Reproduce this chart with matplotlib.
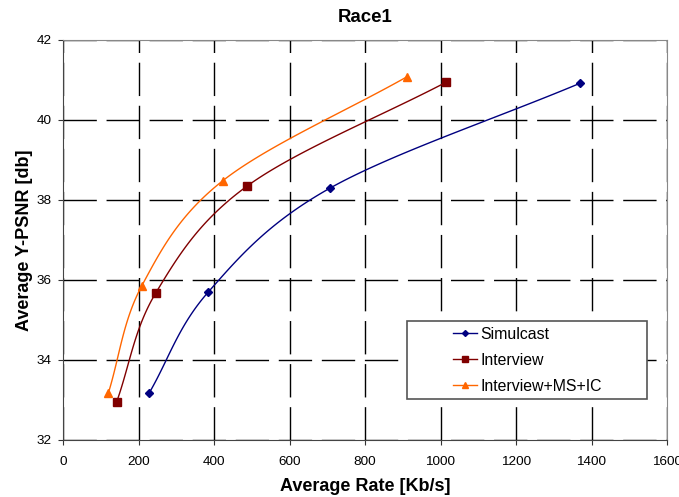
import numpy as np
import matplotlib
matplotlib.use("Agg")
import matplotlib.pyplot as plt
from matplotlib.patches import Rectangle

# rate [Kb/s] / Y-PSNR [db]
simulcast_rate = [228, 384, 706, 1370]
simulcast_psnr = [33.17, 35.69, 38.29, 40.92]
interview_rate = [142, 246, 488, 1014]
interview_psnr = [32.95, 35.68, 38.35, 40.94]
msic_rate = [120, 209, 423, 911]
msic_psnr = [33.17, 35.86, 38.48, 41.08]

x_ticks = [0, 200, 400, 600, 800, 1000, 1200, 1400, 1600]
y_ticks = [32, 34, 36, 38, 40, 42]

plt.rcParams['font.family'] = ['Liberation Sans', 'DejaVu Sans']
plt.rcParams['lines.scale_dashes'] = False

W, H = 679, 497
ax_l, ax_r, ax_t, ax_b = 63, 667, 40, 440


def smooth(xs, ys, n=40):
    # Catmull-Rom style smoothing like Excel's "smoothed line"
    p = np.column_stack([xs, ys]).astype(float)
    p = np.vstack([2 * p[0] - p[1], p, 2 * p[-1] - p[-2]])
    out = []
    t = np.linspace(0, 1, n)
    for i in range(1, len(p) - 2):
        p0, p1, p2, p3 = p[i - 1], p[i], p[i + 1], p[i + 2]
        c1 = p1 + (p2 - p0) / 6
        c2 = p2 - (p3 - p1) / 6
        seg = ((1 - t)[:, None] ** 3 * p1 + 3 * ((1 - t) ** 2 * t)[:, None] * c1
               + 3 * ((1 - t) * t ** 2)[:, None] * c2 + (t ** 3)[:, None] * p2)
        out.append(seg)
    out = np.vstack(out)
    return out[:, 0], out[:, 1]


def ax_xy(px, py):
    # pixel in picture -> axes fraction
    return (px - ax_l) / (ax_r - ax_l), (ax_b - py) / (ax_b - ax_t)


fig = plt.figure(figsize=(W / 100, H / 100), dpi=100)
ax = fig.add_axes([ax_l / W, (H - ax_b) / H, (ax_r - ax_l) / W, (ax_b - ax_t) / H])

series = [
    (simulcast_rate, simulcast_psnr, '#000080', 'D', 4, 'Simulcast'),
    (interview_rate, interview_psnr, '#800000', 's', 5.5, 'Interview'),
    (msic_rate, msic_psnr, '#FF6600', '^', 6, 'Interview+MS+IC'),
]
for xs, ys, col, mk, ms, lab in series:
    sx, sy = smooth(xs, ys)
    ax.plot(sx, sy, color=col, lw=1.0, zorder=3)
    ax.plot(xs, ys, linestyle='none', marker=mk, markersize=ms, color=col, zorder=4)
    ax.plot([], [], color=col, lw=1.0, marker=mk, markersize=ms - 1, label=lab)

ax.set_xlim(0, 1600)
ax.set_ylim(32, 42)
ax.set_xticks(x_ticks)
ax.set_yticks(y_ticks)
ax.grid(True, color='black', lw=1.0, linestyle=(0, (24, 7)))
ax.set_axisbelow(True)
for s in ['top', 'right']:
    ax.spines[s].set_color('#888888')
for s in ['left', 'bottom']:
    ax.spines[s].set_color('#444444')
ax.tick_params(axis='both', direction='out', length=3.6, labelsize=9.7, color='#333333')
ax.tick_params(axis='x', pad=8)
ax.tick_params(axis='y', pad=4.3)

ax.set_title('Race1', fontsize=13.4, fontweight='bold', pad=13)
ax.set_xlabel('Average Rate [Kb/s]', fontsize=13, fontweight='bold', labelpad=7)
ax.set_ylabel('Average Y-PSNR [db]', fontsize=13, fontweight='bold', labelpad=3)

# legend frame like the Excel box, entries indented inside it
x0, y0 = ax_xy(407, 399)
x1, y1 = ax_xy(647, 321)
ax.add_patch(Rectangle((x0, y0), x1 - x0, y1 - y0, transform=ax.transAxes,
                       facecolor='white', edgecolor='#555555', lw=1.2, zorder=5))
lx, ly = ax_xy(453, 327)
leg = ax.legend(loc='upper left', bbox_to_anchor=(lx, ly), fontsize=11.4,
                frameon=False, borderpad=0, handlelength=1.5,
                labelspacing=0.68, handletextpad=0.25, borderaxespad=0)
leg.set_zorder(6)

fig.savefig('out.png', dpi=100)
